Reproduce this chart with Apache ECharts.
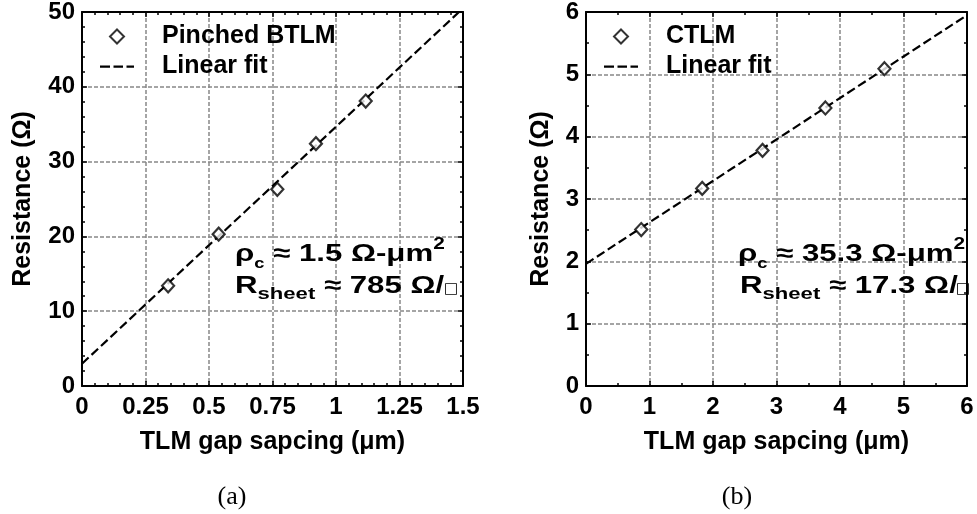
<!DOCTYPE html>
<html>
<head>
<meta charset="utf-8">
<script src="https://cdn.jsdelivr.net/npm/echarts@6/dist/echarts.min.js"></script>
<style>html,body{margin:0;padding:0;background:#fff;}#c{width:977px;height:514px;}</style>
</head>
<body>
<div id="c"></div>
<script>
// ---- data ----
const gapA = [0.339, 0.538, 0.769, 0.921, 1.117];
const resA = [13.4, 20.3, 26.3, 32.4, 38.1];
const fitXA = [0, 1.5];
const fitYA = [2.98, 50.5];
const gapB = [0.87, 1.83, 2.78, 3.77, 4.70];
const resB = [2.51, 3.17, 3.78, 4.46, 5.09];
const fitXB = [0, 6];
const fitYB = [1.96, 5.95];
const xRangeA = [0, 1.5, 0.25];
const yRangeA = [0, 50, 10];
const xRangeB = [0, 6, 1];
const yRangeB = [0, 6, 1];
const seriesNamesA = ['Pinched BTLM', 'Linear fit'];
const seriesNamesB = ['CTLM', 'Linear fit'];
const xTitle = 'TLM gap sapcing (μm)';
const yTitle = 'Resistance (Ω)';
const annotA = ['1.5', '785'];
const annotB = ['35.3', '17.3'];
const captions = ['(a)', '(b)'];

const FONT = '"Liberation Sans", Arial, sans-serif';
const pairs = (xs, ys) => xs.map((x, i) => [x, ys[i]]);

// legend icons drawn inside a 34x14 box (anchor moves fix the box)
const ICON_DIAMOND = 'path://M0,-1M34,15M17,0L24,7L17,14L10,7Z';
const ICON_DASH = 'path://M0,-1M34,15M0,6H10V8.2H0Z M13.5,6H23V8.2H13.5Z M26.5,6H34V8.2H26.5Z';

function mkX(grid, range, minorSplit, main, nameGap) {
  return {
    type: 'value', gridIndex: grid, min: range[0], max: range[1], interval: range[2],
    position: main ? 'bottom' : 'top',
    name: main ? xTitle : '', nameLocation: 'middle', nameGap: nameGap,
    nameTextStyle: { fontFamily: FONT, fontWeight: 'bold', fontSize: 25, color: '#000' },
    axisLine: { show: true, onZero: false, lineStyle: { color: '#000', width: 2 } },
    axisTick: { show: true, inside: true, length: 5, lineStyle: { color: '#000', width: 1.5 } },
    minorTick: { show: true, splitNumber: minorSplit, length: 3, lineStyle: { color: '#000', width: 1.5 } },
    axisLabel: { show: main, margin: 9, fontFamily: FONT, fontWeight: 'bold', fontSize: 24, color: '#000' },
    splitLine: { show: main, lineStyle: { color: '#888', width: 1.5, type: [4, 2] } }
  };
}
function mkY(grid, range, minorSplit, main, nameGap) {
  return {
    type: 'value', gridIndex: grid, min: range[0], max: range[1], interval: range[2],
    position: main ? 'left' : 'right',
    name: main ? yTitle : '', nameLocation: 'middle', nameGap: nameGap, nameRotate: 90,
    nameTextStyle: { fontFamily: FONT, fontWeight: 'bold', fontSize: 25, color: '#000' },
    axisLine: { show: true, onZero: false, lineStyle: { color: '#000', width: 2 } },
    axisTick: { show: true, inside: true, length: 5, lineStyle: { color: '#000', width: 1.5 } },
    minorTick: { show: true, splitNumber: minorSplit, length: 3, lineStyle: { color: '#000', width: 1.5 } },
    axisLabel: { show: main, margin: 7, fontFamily: FONT, fontWeight: 'bold', fontSize: 24, color: '#000' },
    splitLine: { show: main, lineStyle: { color: '#888', width: 1.5, type: [4, 2] } }
  };
}
function mkLegend(left, names) {
  return {
    left: left, top: 24, orient: 'vertical', padding: 0, itemWidth: 34, itemHeight: 16, itemGap: 5,
    selectedMode: false,
    data: [{ name: names[0], icon: ICON_DIAMOND }, { name: names[1], icon: ICON_DASH }],
    textStyle: { fontFamily: FONT, fontWeight: 'bold', fontSize: 25, color: '#000', lineHeight: 25, padding: [0, 0, 0, 23] }
  };
}
const rich = {
  m: { fontFamily: FONT, fontWeight: 'bold', fontSize: 24, lineHeight: 34, verticalAlign: 'middle', color: '#000' },
  c: { fontFamily: FONT, fontWeight: 'bold', fontSize: 14, lineHeight: 20, verticalAlign: 'bottom', color: '#000' },
  s: { fontFamily: FONT, fontWeight: 'bold', fontSize: 17, lineHeight: 17, verticalAlign: 'bottom', color: '#000' },
  p: { fontFamily: FONT, fontWeight: 'bold', fontSize: 16, lineHeight: 16, verticalAlign: 'top', color: '#000' }
};
function annot(x, y, txt) {
  return { type: 'text', x: x, y: y, scaleX: 1.3, z: 100,
    style: { text: txt, rich: rich, align: 'left', verticalAlign: 'top' } };
}
function boxGlyph(x, y) {
  return { type: 'text', x: x, y: y, z: 100,
    style: { text: '□', fontFamily: '"DejaVu Sans", sans-serif', fontSize: 15, fill: '#000', align: 'left', verticalAlign: 'middle' } };
}
function mkScatter(name, xi, xs, ys) {
  return { name: name, type: 'scatter', xAxisIndex: xi, yAxisIndex: xi, z: 5,
    symbol: 'diamond', symbolSize: [12, 13], data: pairs(xs, ys),
    itemStyle: { color: '#fff', borderColor: '#000', borderWidth: 2.2 } };
}
function mkFit(name, xi, xs, ys) {
  return { name: name, type: 'line', xAxisIndex: xi, yAxisIndex: xi, z: 3, clip: true,
    color: '#000', symbol: 'none', showSymbol: false, data: pairs(xs, ys),
    itemStyle: { color: '#000' },
    lineStyle: { color: '#000', width: 2.2, type: [9, 4] } };
}

const chart = echarts.init(document.getElementById('c'), null, { renderer: 'canvas' });
chart.setOption({
  animation: false,
  backgroundColor: '#fff',
  grid: [
    { left: 82, top: 5, width: 381, height: 381 },
    { left: 586, top: 5, width: 381, height: 381 }
  ],
  xAxis: [
    mkX(0, xRangeA, 5, true, 44), mkX(0, xRangeA, 5, false, 0),
    mkX(1, xRangeB, 2, true, 44), mkX(1, xRangeB, 2, false, 0)
  ],
  yAxis: [
    mkY(0, yRangeA, 5, true, 46), mkY(0, yRangeA, 5, false, 0),
    mkY(1, yRangeB, 2, true, 32), mkY(1, yRangeB, 2, false, 0)
  ],
  legend: [mkLegend(99, seriesNamesA), mkLegend(603, seriesNamesB)],
  series: [
    mkFit(seriesNamesA[1], 0, fitXA, fitYA),
    mkScatter(seriesNamesA[0], 0, gapA, resA),
    mkFit(seriesNamesB[1], 2, fitXB, fitYB),
    mkScatter(seriesNamesB[0], 2, gapB, resB)
  ],
  graphic: [
    annot(235, 237, '{m|ρ}{c|c}{m| ≈ ' + annotA[0] + ' Ω-μm}{p|2}'),
    annot(235, 269, '{m|R}{s|sheet}{m| ≈ ' + annotA[1] + ' Ω/}'),
    annot(738, 237, '{m|ρ}{c|c}{m| ≈ ' + annotB[0] + ' Ω-μm}{p|2}'),
    annot(740, 269, '{m|R}{s|sheet}{m| ≈ ' + annotB[1] + ' Ω/}'),
    boxGlyph(444, 289),
    boxGlyph(956, 289),
    { type: 'text', x: 232, y: 497, style: { text: captions[0], fontFamily: '"Liberation Serif", serif', fontSize: 26, fill: '#000', align: 'center', verticalAlign: 'middle' } },
    { type: 'text', x: 737, y: 497, style: { text: captions[1], fontFamily: '"Liberation Serif", serif', fontSize: 26, fill: '#000', align: 'center', verticalAlign: 'middle' } }
  ]
});
</script>
</body>
</html>
